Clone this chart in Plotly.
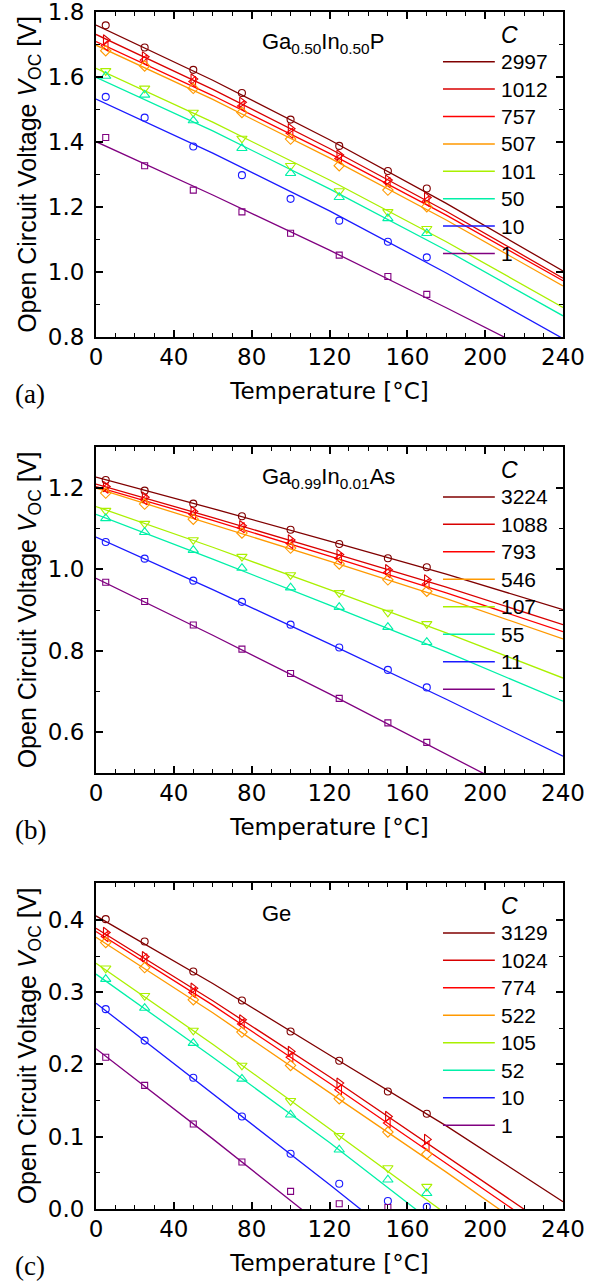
import plotly.graph_objects as go

# ---------------- data ----------------
temps = [5, 25, 50, 75, 100, 125, 150, 170]          # measured temperatures [°C]
fit_temps = [0, 60, 120, 180, 240]                    # temperatures of the fitted curves

symbols = ["circle-open", "triangle-right-open", "triangle-left-open", "diamond-open",
           "triangle-down-open", "triangle-up-open", "circle-open", "square-open"]
marker_sizes = [7, 9, 9, 8, 9, 9, 7, 6]
colors = ["#800000", "#d80000", "#ff0000", "#ff9900",
          "#aaf000", "#00f0a8", "#1a1aff", "#800080"]

# (a) Ga0.50In0.50P
conc_a = ["2997", "1012", "757", "507", "101", "50", "10", "1"]
voc_a = [
    [1.759, 1.691, 1.622, 1.551, 1.469, 1.388, 1.311, 1.257],
    [1.714, 1.662, 1.594, 1.522, 1.441, 1.360, 1.283, 1.229],
    [1.696, 1.652, 1.586, 1.511, 1.427, 1.349, 1.275, 1.218],
    [1.681, 1.634, 1.565, 1.491, 1.409, 1.327, 1.252, 1.201],
    [1.619, 1.565, 1.491, 1.411, 1.327, 1.249, 1.185, 1.133],
    [1.603, 1.545, 1.466, 1.381, 1.304, 1.230, 1.165, 1.119],
    [1.539, 1.475, 1.386, 1.298, 1.225, 1.158, 1.093, 1.045],
    [1.414, 1.327, 1.252, 1.185, 1.119, 1.052, 0.986, 0.931],
]
fit_a = [
    [1.760, 1.590, 1.407, 1.211, 1.003],
    [1.731, 1.562, 1.380, 1.187, 0.981],
    [1.709, 1.543, 1.365, 1.175, 0.973],
    [1.698, 1.531, 1.351, 1.160, 0.957],
    [1.627, 1.461, 1.283, 1.093, 0.891],
    [1.599, 1.434, 1.256, 1.067, 0.865],
    [1.532, 1.366, 1.188, 0.997, 0.795],
    [1.401, 1.237, 1.067, 0.890, 0.708],
]

# (b) Ga0.99In0.01As
conc_b = ["3224", "1088", "793", "546", "107", "55", "11", "1"]
voc_b = [
    [1.219, 1.193, 1.161, 1.130, 1.097, 1.062, 1.027, 1.005],
    [1.203, 1.177, 1.142, 1.107, 1.072, 1.036, 0.999, 0.974],
    [1.199, 1.171, 1.135, 1.102, 1.063, 1.027, 0.992, 0.964],
    [1.187, 1.160, 1.123, 1.089, 1.052, 1.013, 0.974, 0.946],
    [1.144, 1.112, 1.072, 1.031, 0.986, 0.942, 0.894, 0.866],
    [1.125, 1.091, 1.047, 1.003, 0.955, 0.907, 0.858, 0.821],
    [1.067, 1.026, 0.972, 0.920, 0.864, 0.808, 0.753, 0.710],
    [0.968, 0.921, 0.863, 0.804, 0.744, 0.683, 0.623, 0.575],
]
fit_b = [
    [1.226, 1.149, 1.069, 0.988, 0.901],
    [1.209, 1.127, 1.042, 0.956, 0.864],
    [1.203, 1.120, 1.032, 0.942, 0.847],
    [1.199, 1.110, 1.020, 0.928, 0.829],
    [1.154, 1.054, 0.950, 0.844, 0.733],
    [1.135, 1.025, 0.912, 0.797, 0.676],
    [1.079, 0.950, 0.817, 0.681, 0.541],
    [0.978, 0.838, 0.694, 0.548, 0.398],
]

# (c) Ge
conc_c = ["3129", "1024", "774", "522", "105", "52", "10", "1"]
voc_c = [
    [0.401, 0.370, 0.3285, 0.2885, 0.2456, 0.205, 0.1626, 0.1318],
    [0.3825, 0.349, 0.3055, 0.2617, 0.218, 0.1742, 0.128, 0.0963],
    [0.377, 0.346, 0.2995, 0.256, 0.210, 0.165, 0.119, 0.087],
    [0.3686, 0.334, 0.2894, 0.2447, 0.1986, 0.1525, 0.1065, 0.076],
    [0.333, 0.295, 0.247, 0.1986, 0.1497, 0.1014, 0.0567, 0.031],
    [0.318, 0.278, 0.2295, 0.180, 0.1304, 0.082, 0.0405, 0.0217],
    [0.2765, 0.233, 0.1816, 0.128, 0.0765, 0.035, 0.011, 0.003],
    [0.210, 0.171, 0.1175, 0.065, 0.0244, 0.0072, 0.002, None],
]
fit_c = [
    [0.4055, 0.312, 0.213, 0.115, 0.010],
    [0.3885, 0.288, 0.183, 0.074, -0.037],
    [0.384, 0.282, 0.174, 0.064, -0.048],
    [0.376, 0.2715, 0.161, 0.051, -0.062],
    [0.340, 0.228, 0.111, -0.005, -0.125],
    [0.325, 0.210, 0.092, -0.033, -0.152],
    [0.2848, 0.160, 0.034, -0.095, -0.225],
    [0.2217, 0.097, -0.031, -0.158, -0.286],
]

materials = ["Ga<sub>0.50</sub>In<sub>0.50</sub>P", "Ga<sub>0.99</sub>In<sub>0.01</sub>As", "Ge"]
panel_tags = ["(a)", "(b)", "(c)"]
y_ranges = [[0.7999, 1.8001], [0.4999, 1.3001], [0.0, 0.451]]
y_dticks = [0.2, 0.2, 0.1]
y_minor = [0.1, 0.1, 0.05]

panels = [(conc_a, voc_a, fit_a), (conc_b, voc_b, fit_b), (conc_c, voc_c, fit_c)]

# ---------------- layout geometry ----------------
W, H = 598, 1285
ml, mr, mt, mb = 96, 35, 12, 76
ph = H - mt - mb
pw = W - ml - mr
panel_px = [(12, 337), (447, 773), (883, 1209)]   # top, bottom in page pixels
domains = [[(H - mb - b) / ph, (H - mb - t) / ph] for t, b in panel_px]

fig = go.Figure()
SANS = "Liberation Sans"
WIDE = "DejaVu Sans"
SERIF = "Liberation Serif"

shapes = []
annotations = []

for p, (conc, voc, fit) in enumerate(panels):
    xa = "x" if p == 0 else f"x{p+1}"
    ya = "y" if p == 0 else f"y{p+1}"
    for i in range(len(conc)):
        fig.add_trace(go.Scatter(
            x=fit_temps, y=fit[i], mode="lines", xaxis=xa, yaxis=ya,
            line=dict(color=colors[i], width=1.3), showlegend=False, hoverinfo="skip"))
    for i in range(len(conc)):
        fig.add_trace(go.Scatter(
            x=temps, y=voc[i], mode="markers", xaxis=xa, yaxis=ya,
            marker=dict(symbol=symbols[i], size=marker_sizes[i], color=colors[i],
                        line=dict(width=1.1, color=colors[i])),
            showlegend=False, name=conc[i]))

    xdom = f"{xa} domain"
    ydom = f"{ya} domain"
    # material label
    annotations.append(dict(xref=xdom, yref=ydom, x=0.351, y=0.905, xanchor="left", yanchor="middle",
                            text=materials[p], showarrow=False,
                            font=dict(family=SANS, size=22, color="black")))
    # legend header
    annotations.append(dict(xref=xdom, yref=ydom, x=0.862, y=0.929, xanchor="left", yanchor="middle",
                            text="<i>C</i>", showarrow=False,
                            font=dict(family=SANS, size=23, color="black")))
    for i, c in enumerate(conc):
        yy = 0.847 - i * 0.0843
        shapes.append(dict(type="line", xref=xdom, yref=ydom, x0=0.743, x1=0.854, y0=yy, y1=yy,
                           line=dict(color=colors[i], width=1.5)))
        annotations.append(dict(xref=xdom, yref=ydom, x=0.862, y=yy, xanchor="left", yanchor="middle",
                                text=c, showarrow=False,
                                font=dict(family=SANS, size=21, color="black")))
    # panel tag
    tag_y = (H - mb - (panel_px[p][1] + 57)) / ph
    annotations.append(dict(xref="paper", yref="paper", x=(13 - ml) / pw, y=tag_y,
                            xanchor="left", yanchor="middle", text=panel_tags[p], showarrow=False,
                            font=dict(family=SERIF, size=27, color="black")))

axis_common = dict(showline=True, linecolor="black", linewidth=2, mirror="allticks",
                   ticks="inside", ticklen=7, tickwidth=1.5, tickcolor="black",
                   showgrid=False, zeroline=False, automargin=False,
                   ticklabeloverflow="allow",
                   tickfont=dict(family=WIDE, size=23, color="black"))

layout = dict(template="none", width=W, height=H, margin=dict(l=ml, r=mr, t=mt, b=mb),
              paper_bgcolor="white", plot_bgcolor="white",
              shapes=shapes, annotations=annotations, showlegend=False)

for p in range(3):
    xk = "xaxis" if p == 0 else f"xaxis{p+1}"
    yk = "yaxis" if p == 0 else f"yaxis{p+1}"
    ya = "y" if p == 0 else f"y{p+1}"
    xa = "x" if p == 0 else f"x{p+1}"
    layout[xk] = dict(axis_common, domain=[0, 1], anchor=ya, range=[0, 240],
                      tick0=0, dtick=40, ticklabelstandoff=-2,
                      minor=dict(dtick=10, ticks="inside", ticklen=4, tickwidth=1.2, tickcolor="black"),
                      title=dict(text="Temperature [°C]", standoff=14,
                                 font=dict(family=WIDE, size=23, color="black")))
    layout[yk] = dict(axis_common, domain=domains[p], anchor=xa, range=y_ranges[p],
                      tick0=0, dtick=y_dticks[p], tickformat=".1f", ticklabelstandoff=5,
                      minor=dict(dtick=y_minor[p], ticks="inside", ticklen=4, tickwidth=1.2, tickcolor="black"),
                      title=dict(text="Open Circuit Voltage <i>V</i><sub>OC</sub> [V]", standoff=4,
                                 font=dict(family=SANS, size=25, color="black")))

fig.update_layout(**layout)
fig.write_html("out.html", config={"displayModeBar": False},
               post_script="document.body.style.margin='0';document.body.style.overflow='hidden';")
